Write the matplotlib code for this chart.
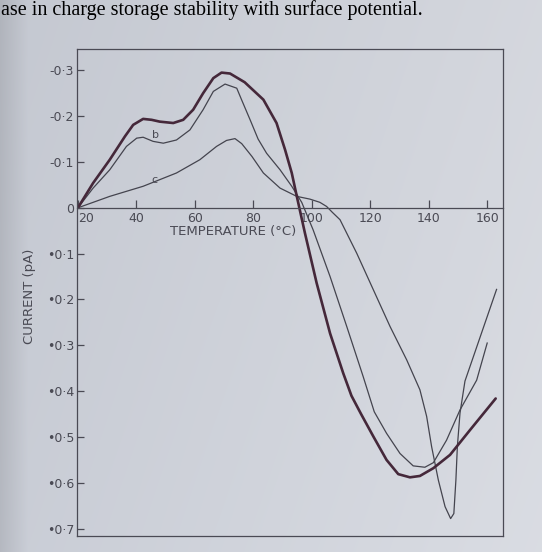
import numpy as np
import matplotlib
matplotlib.use('Agg')
import matplotlib.pyplot as plt

# 電流 (pA) は上向きが負: 図の目盛りどおり
temp_a = [20, 25.2, 30.9, 36.1, 38.9, 42.3, 45.2, 48.0, 52.6, 56.0, 59.4, 62.8, 66.3, 69.1,
          72.0, 77.0, 83.4, 87.9, 90.8, 93.1, 95.0, 97.6, 101.6, 106.2, 110.7, 113.5, 116.8,
          121.0, 125.5, 129.5, 133.5, 136.9, 141.5, 147.2, 154.0, 162.8]
cur_a = [0.0, -0.054, -0.105, -0.156, -0.181, -0.194, -0.192, -0.188, -0.185, -0.192, -0.214,
         -0.250, -0.283, -0.295, -0.293, -0.274, -0.236, -0.185, -0.127, -0.076, -0.020, 0.055,
         0.164, 0.274, 0.361, 0.410, 0.450, 0.499, 0.550, 0.581, 0.588, 0.585, 0.568, 0.539,
         0.485, 0.416]

temp_b = [20, 25.2, 30.9, 36.6, 40.1, 42.3, 45.7, 49.2, 53.7, 58.3, 62.8, 66.3, 70.3, 74.3,
          76.0, 79.0, 81.6, 84.5, 89.1, 93.1, 96.5, 100.4, 106.2, 111.9, 117.5, 121.3, 125.5,
          130.1, 134.6, 138.6, 141.5, 146.0, 150.6, 156.3, 159.9]
cur_b = [0.0, -0.043, -0.083, -0.134, -0.152, -0.154, -0.145, -0.141, -0.148, -0.170, -0.214,
         -0.254, -0.270, -0.261, -0.235, -0.190, -0.150, -0.119, -0.083, -0.047, -0.012, 0.048,
         0.150, 0.259, 0.368, 0.445, 0.492, 0.536, 0.563, 0.566, 0.556, 0.507, 0.441, 0.376,
         0.295]

temp_c = [20, 30.9, 42.3, 53.7, 61.7, 67.4, 70.8, 73.7, 76.0, 79.5, 83.4, 89.1, 94.8, 99.3,
          102.7, 105.0, 107.0, 109.6, 115.3, 121.0, 126.7, 132.4, 136.9, 139.2, 140.9, 143.2,
          145.5, 147.4, 148.5, 149.2, 149.7, 150.6, 152.3, 163.1]
cur_c = [0.0, -0.025, -0.047, -0.076, -0.105, -0.134, -0.147, -0.151, -0.140, -0.112, -0.076,
         -0.043, -0.025, -0.019, -0.012, -0.003, 0.010, 0.026, 0.099, 0.179, 0.259, 0.332,
         0.397, 0.455, 0.521, 0.594, 0.652, 0.678, 0.667, 0.594, 0.521, 0.448, 0.378, 0.178]

x_ticks = [20, 40, 60, 80, 100, 120, 140, 160]
x_labels = ['20', '40', '60', '80', '100', '120', '140', '160']
y_ticks = [-0.3, -0.2, -0.1, 0.0, 0.1, 0.2, 0.3, 0.4, 0.5, 0.6, 0.7]
y_labels = ['-0·3', '-0·2', '-0·1', '0', '•0·1', '•0·2', '•0·3', '•0·4', '•0·5', '•0·6', '•0·7']

ink = '#4a4a54'
W, H = 542, 552

fig = plt.figure(figsize=(W / 100, H / 100), dpi=100)

# スキャンした紙の背景
bg = fig.add_axes([0, 0, 1, 1], zorder=-10)
gx = np.linspace(0, 1, W)
gy = np.linspace(0, 1, H)
X, Y = np.meshgrid(gx, gy)
c0 = np.array([0.77, 0.785, 0.82])
c1 = np.array([0.84, 0.85, 0.875])
img = c0 + (c1 - c0) * X[..., None] * 0.9 + 0.02 * Y[..., None]
strip = np.clip(1 - X * W / 28, 0, 1)[..., None]
img = img * (1 - 0.1 * strip)
bg.imshow(np.clip(img, 0, 1), aspect='auto', extent=[0, 1, 0, 1])
bg.axis('off')

fig.text(0.002, 1 - 15 / H, 'ase in charge storage stability with surface potential.',
         family='Liberation Serif', fontsize=14.5, color='black', va='baseline', ha='left')

ax = fig.add_axes([77 / W, 1 - 536 / H, (503 - 77) / W, (536 - 49) / H])
ax.patch.set_alpha(0)

ax.plot(temp_b, cur_b, color='#44444e', lw=0.9, solid_joinstyle='round')
ax.plot(temp_c, cur_c, color='#44444e', lw=0.9, solid_joinstyle='round')
ax.plot(temp_a, cur_a, color='#45283a', lw=1.9, solid_joinstyle='round', solid_capstyle='round')

ax.set_xlim(19.7, 165.3)
ax.set_ylim(0.716, -0.3465)

for s in ax.spines.values():
    s.set_color(ink)
    s.set_linewidth(0.9)
ax.spines['bottom'].set_position(('data', 0))
ax.plot([0, 1], [0, 0], transform=ax.transAxes, color=ink, lw=0.9, clip_on=False)

ax.set_xticks(x_ticks, x_labels)
ax.set_yticks(y_ticks, y_labels)
ax.tick_params(axis='x', direction='in', length=6, width=0.9, color=ink, pad=3,
               labelsize=9, labelcolor=ink)
ax.tick_params(axis='y', direction='in', length=5, width=0.9, color=ink, pad=2,
               labelsize=9, labelcolor=ink)
ax.get_xticklabels()[0].set_ha('left')

ax.text(73, 0.052, 'TEMPERATURE (°C)', ha='center', va='center', fontsize=9.5, color=ink)
fig.text(30 / W, 1 - 296 / H, 'CURRENT (pA)', rotation=90, ha='center', va='center',
         fontsize=9.5, color=ink)

ax.text(46.7, -0.159, 'b', ha='center', va='center', fontsize=8, color=ink)
ax.text(46.3, -0.061, 'c', ha='center', va='center', fontsize=8, color=ink)

fig.savefig('out.png', dpi=100)
